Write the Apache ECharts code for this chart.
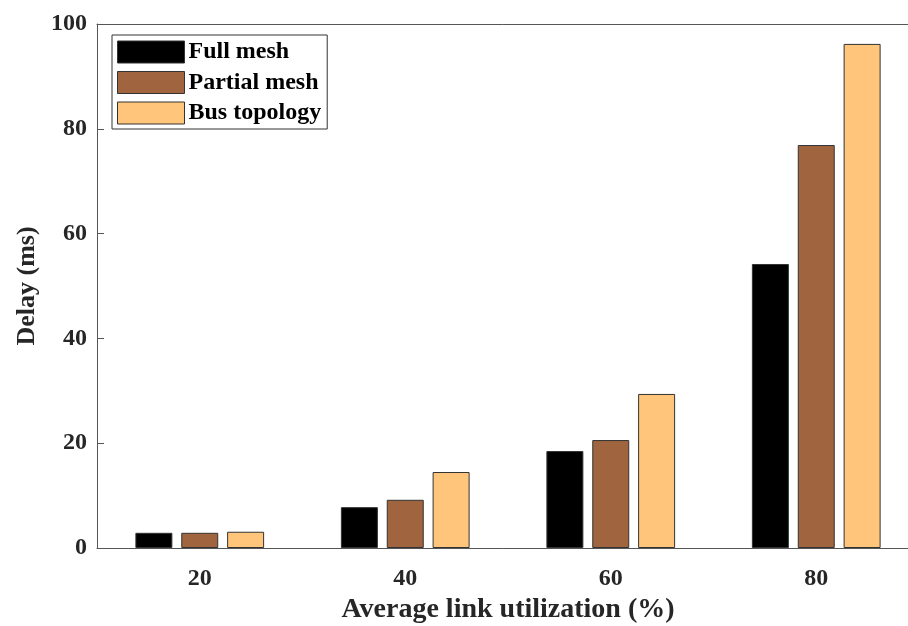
<!DOCTYPE html>
<html>
<head>
<meta charset="utf-8">
<script src="https://cdn.jsdelivr.net/npm/echarts@6/dist/echarts.min.js"></script>
<style>html,body{margin:0;padding:0;background:#fff}#c{width:908px;height:626px}</style>
</head>
<body>
<div id="c"></div>
<script>
const categories = ['20', '40', '60', '80'];
const fullMesh = [2.9, 7.8, 18.5, 54.2];
const partialMesh = [2.9, 9.2, 20.6, 76.9];
const busTopology = [3.1, 14.5, 29.4, 96.2];
const yTicks = [0, 20, 40, 60, 80, 100];

const font = 'Liberation Serif';
const axisColor = '#555';
const textColor = '#262626';
const chart = echarts.init(document.getElementById('c'));
const barBase = { type: 'bar', barWidth: '18%', barGap: '24%' };
const tickStyle = { inside: true, length: 7, lineStyle: { color: axisColor } };
chart.setOption({
  animation: false,
  grid: { left: 97, top: 24, width: 822, height: 524, outerBoundsMode: 'none', containLabel: false },
  legend: {
    orient: 'vertical', left: 112, top: 35,
    icon: 'rect',
    itemWidth: 67, itemHeight: 22, itemGap: 6.5,
    padding: [5, 6, 4, 5],
    borderColor: '#333', borderWidth: 1, backgroundColor: '#fff',
    itemStyle: { borderColor: '#333', borderWidth: 1 },
    textStyle: { fontFamily: font, fontWeight: 'bold', fontSize: 24, color: '#000', padding: [0, 0, 0, -1] },
    data: ['Full mesh', 'Partial mesh', 'Bus topology']
  },
  xAxis: [{
    type: 'category', data: categories, position: 'bottom',
    name: 'Average link utilization (%)', nameLocation: 'middle', nameGap: 47,
    nameTextStyle: { fontFamily: font, fontWeight: 'bold', fontSize: 28, color: textColor },
    axisLine: { onZero: false, lineStyle: { color: axisColor, width: 1 } },
    axisTick: Object.assign({ alignWithLabel: true }, tickStyle),
    axisLabel: { fontFamily: font, fontWeight: 'bold', fontSize: 24, color: textColor, margin: 19 }
  }, {
    type: 'category', data: categories, position: 'top',
    axisLine: { onZero: false, lineStyle: { color: axisColor, width: 1 } },
    axisTick: Object.assign({ alignWithLabel: true }, tickStyle),
    axisLabel: { show: false }
  }],
  yAxis: [{
    type: 'value', min: 0, max: 100, interval: 20, position: 'left',
    name: 'Delay (ms)', nameLocation: 'middle', nameGap: 55,
    nameTextStyle: { fontFamily: font, fontWeight: 'bold', fontSize: 26, color: textColor },
    axisLine: { show: true, onZero: false, lineStyle: { color: axisColor, width: 1 } },
    axisTick: Object.assign({ show: true }, tickStyle),
    axisLabel: { fontFamily: font, fontWeight: 'bold', fontSize: 24, color: textColor, margin: 10,
      formatter: v => yTicks.includes(v) ? String(v) : '' },
    splitLine: { show: false }
  }, {
    type: 'value', min: 0, max: 100, interval: 20, position: 'right',
    axisLine: { show: true, onZero: false, lineStyle: { color: axisColor, width: 1 } },
    axisTick: Object.assign({ show: true }, tickStyle),
    axisLabel: { show: false }, splitLine: { show: false }
  }],
  series: [
    Object.assign({}, barBase, { name: 'Full mesh', data: fullMesh, itemStyle: { color: '#000000', borderColor: '#333', borderWidth: 1 } }),
    Object.assign({}, barBase, { name: 'Partial mesh', data: partialMesh, itemStyle: { color: '#A0643E', borderColor: '#333', borderWidth: 1 } }),
    Object.assign({}, barBase, { name: 'Bus topology', data: busTopology, itemStyle: { color: '#FFC67B', borderColor: '#333', borderWidth: 1 } })
  ]
});
</script>
</body>
</html>
